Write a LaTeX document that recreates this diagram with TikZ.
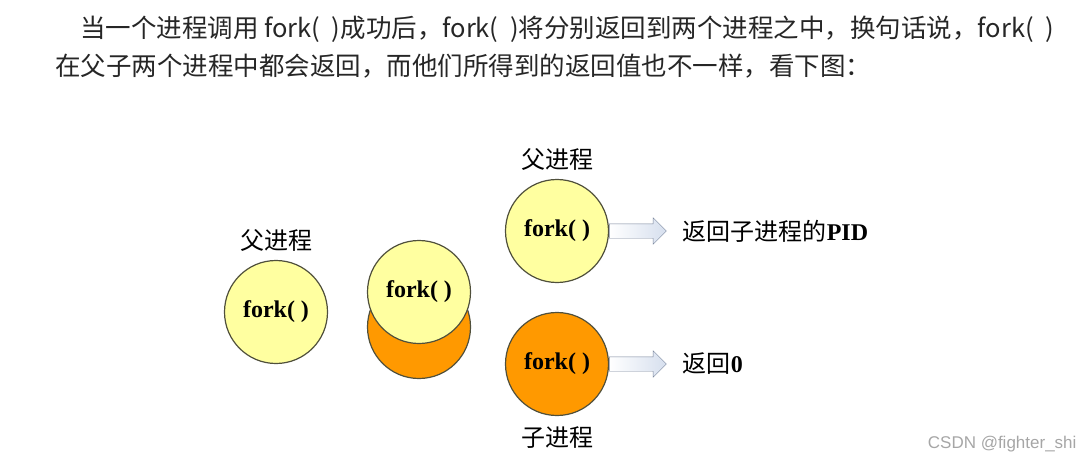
\documentclass[tikz,border=0pt]{standalone}
\usepackage{fontspec}
\setmainfont{Liberation Serif}
\newfontfamily\cjk{Noto Sans CJK SC}
\newfontfamily\wmfont{Liberation Sans}
\usetikzlibrary{positioning,shapes.arrows}
\definecolor{procyellow}{RGB}{255,255,160}
\definecolor{procorange}{RGB}{255,153,0}
\definecolor{procline}{RGB}{80,80,60}
\definecolor{arrowblue}{RGB}{214,223,238}
\definecolor{arrowline}{RGB}{120,132,155}
\newcommand{\forkcall}{fork(\hspace{0.45em})}

\begin{document}
\begin{tikzpicture}[x=1pt,y=-1pt,
  proc/.style={draw=procline,line width=1.2pt,circle,minimum size=103pt,inner sep=0pt,font=\bfseries\fontsize{24}{24}\selectfont},
  parent/.style={proc,fill=procyellow},
  child/.style={proc,fill=procorange},
  ret/.style={single arrow,draw=arrowline,left color=white,right color=arrowblue,minimum height=57pt,inner xsep=0pt,inner ysep=7pt,single arrow head extend=6pt,single arrow head indent=0pt},
  lbl/.style={font=\cjk\fontsize{24}{24}\selectfont,inner sep=0pt},
  para/.style={font=\cjk\fontsize{25.5}{25.5}\selectfont,inner sep=0pt,anchor=base west,text=black!85}]
\useasboundingbox (0,0) rectangle (1088,463);

\node[para] (line1) at (80,37) {当一个进程调用 \forkcall 成功后，\forkcall 将分别返回到两个进程之中，换句话说，\forkcall};
\node[para] (line2) at (55,75) {在父子两个进程中都会返回，而他们所得到的返回值也不一样，看下图：};

% before fork
\node[parent] (p0) at (276,312) {fork( )};
\node[lbl, above=8pt of p0] (p0l) {父进程};

% the call splits
\node[child] (c1) at (419,327) {};
\node[parent] (p1) at (419,292) {fork( )};

% after fork
\node[parent] (p2) at (557,231) {fork( )};
\node[lbl, above=8pt of p2] (p2l) {父进程};
\node[ret, right=0pt of p2] (a2) {};
\node[lbl, right=16pt of a2] (t2) {返回子进程的{\rmfamily\bfseries PID}};

\node[child] (c2) at (557,364) {fork( )};
\node[lbl, below=10pt of c2] (c2l) {子进程};
\node[ret, right=0pt of c2] (a3) {};
\node[lbl, right=16pt of a3] (t3) {返回{\rmfamily\bfseries 0}};

\node[font=\wmfont\fontsize{17}{17}\selectfont, text=black!35, anchor=east] (wm) at (1080,444) {CSDN @fighter\_shi};
\end{tikzpicture}
\end{document}
